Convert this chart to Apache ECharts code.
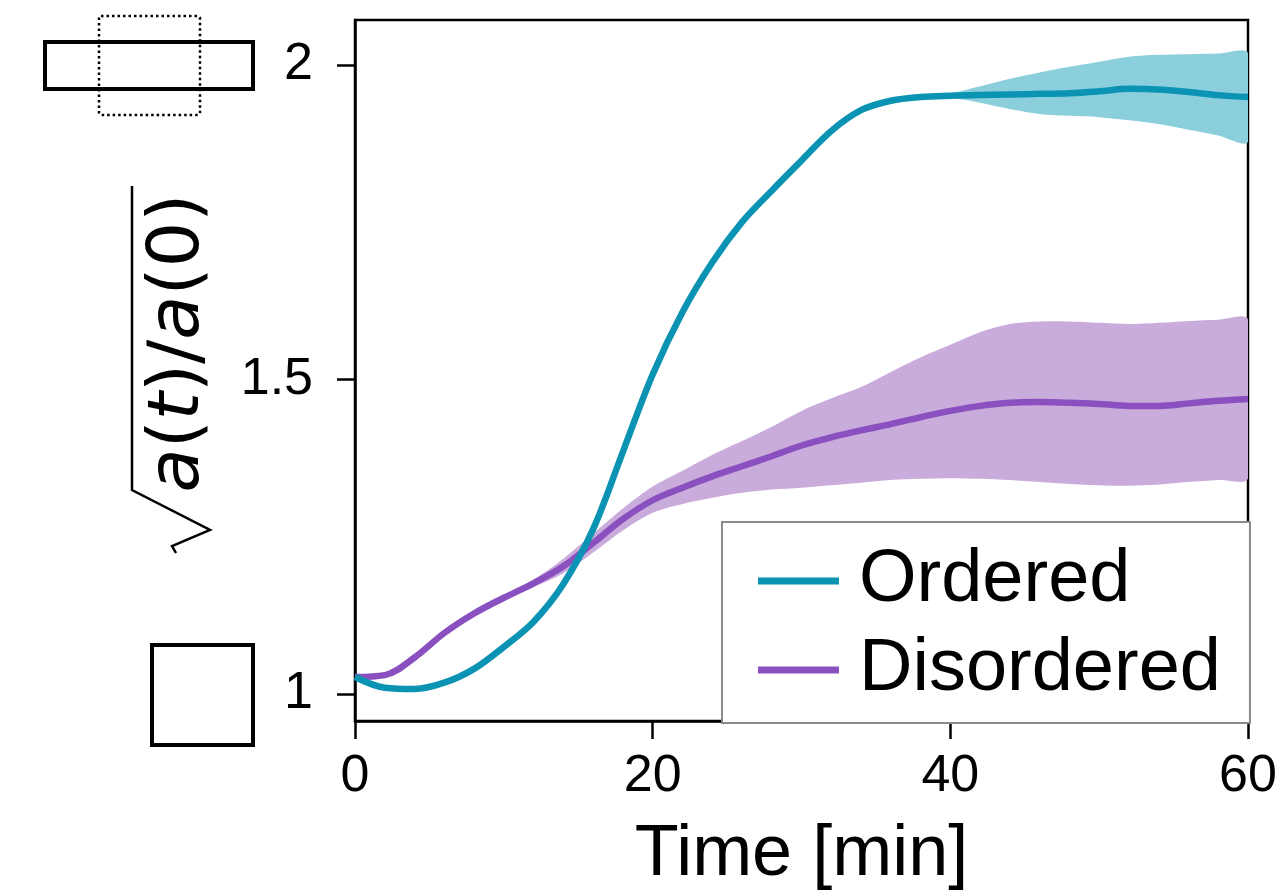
<!DOCTYPE html>
<html>
<head>
<meta charset="utf-8">
<script src="https://cdn.jsdelivr.net/npm/echarts@6/dist/echarts.min.js"></script>
<style>
html,body{margin:0;padding:0;background:#fff;}
#chart{width:1286px;height:896px;}
</style>
</head>
<body>
<div id="chart"></div>
<script>
// ---- data ----
var times = [0,2,4,6,8,10,12,14,16,18,20,22,24,26,28,30,32,34,36,38,40,42,44,46,48,50,52,54,56,58,60];

var orderedMean  = [1.027,1.010,1.008,1.018,1.040,1.075,1.115,1.175,1.262,1.385,1.508,1.607,1.686,1.750,1.800,1.848,1.895,1.928,1.943,1.949,1.951,1.952,1.953,1.954,1.955,1.958,1.962,1.961,1.957,1.952,1.949];
var orderedUpper = [1.029,1.012,1.010,1.020,1.042,1.077,1.117,1.177,1.264,1.387,1.510,1.609,1.688,1.752,1.802,1.850,1.897,1.930,1.945,1.951,1.955,1.966,1.978,1.988,1.997,2.005,2.013,2.016,2.017,2.018,2.019];
var orderedLower = [1.025,1.008,1.006,1.016,1.038,1.073,1.113,1.173,1.260,1.383,1.506,1.605,1.684,1.748,1.798,1.846,1.893,1.926,1.941,1.947,1.948,1.940,1.930,1.922,1.919,1.917,1.912,1.906,1.897,1.888,1.878];

var disorderedMean  = [1.027,1.030,1.058,1.097,1.128,1.153,1.176,1.203,1.240,1.278,1.308,1.328,1.346,1.362,1.378,1.395,1.408,1.419,1.429,1.440,1.450,1.458,1.463,1.464,1.463,1.461,1.458,1.458,1.462,1.466,1.469];
var disorderedUpper = [1.029,1.032,1.060,1.099,1.131,1.157,1.182,1.215,1.255,1.295,1.330,1.355,1.380,1.402,1.425,1.450,1.470,1.488,1.512,1.535,1.555,1.575,1.588,1.592,1.592,1.590,1.588,1.590,1.593,1.595,1.595];
var disorderedLower = [1.025,1.028,1.056,1.095,1.125,1.149,1.170,1.192,1.225,1.260,1.288,1.302,1.312,1.320,1.325,1.328,1.332,1.336,1.340,1.342,1.343,1.342,1.340,1.337,1.334,1.332,1.331,1.333,1.337,1.340,1.343];

var seriesNames = ['Ordered','Disordered'];
var xTicks = [0,20,40,60];
var yTicks = [1,1.5,2];

// ---- styles ----
var tealLine = '#0b93b3';
var tealBand = '#8bcfdd';
var purpleLine = '#8b50bf';
var purpleBand = '#c9acdb';
var FONT = 'Liberation Sans';

function pairs(xs, ys){ return xs.map(function(x,i){ return [x, ys[i]]; }); }

function bandSeries(name, upper, lower, color){
  return {
    name:name, type:'custom', silent:true, clip:true,
    data:[[times[0], upper[0]]],
    renderItem:function(params, api){
      var pts = [];
      for (var i=0;i<times.length;i++) pts.push(api.coord([times[i], upper[i]]));
      for (var j=times.length-1;j>=0;j--) pts.push(api.coord([times[j], lower[j]]));
      var cs = params.coordSys;
      return {type:'polygon',
        shape:{points:pts, smooth:0.3, smoothConstraint:[[cs.x, cs.y],[cs.x+cs.width, cs.y+cs.height]]},
        style:{fill:color, stroke:null}};
    }
  };
}

var chart = echarts.init(document.getElementById('chart'), null, {renderer:'canvas'});

var option = {
  animation:false,
  backgroundColor:'#fff',
  grid:{left:355, right:38, top:20, bottom:174, show:true, borderColor:'#000', borderWidth:2.5, backgroundColor:'transparent'},
  xAxis:{
    type:'value', min:0, max:60, interval:20,
    name:'Time [min]', nameLocation:'middle', nameGap:98,
    nameTextStyle:{fontFamily:FONT, fontSize:72, color:'#000'},
    axisLine:{show:true, onZero:false, lineStyle:{color:'#000', width:2.5}},
    axisTick:{show:true, length:18, lineStyle:{color:'#000', width:2.5}, customValues:xTicks},
    axisLabel:{fontFamily:FONT, fontSize:52, color:'#000', margin:30, customValues:xTicks},
    splitLine:{show:false}
  },
  yAxis:{
    type:'value', min:0.9571, max:2.0714,
    axisLine:{show:true, onZero:false, lineStyle:{color:'#000', width:2.5}},
    axisTick:{show:true, length:18, lineStyle:{color:'#000', width:2.5}, customValues:yTicks},
    axisLabel:{fontFamily:FONT, fontSize:52, color:'#000', margin:42, customValues:yTicks,
      formatter:function(v){ return String(v); }},
    splitLine:{show:false}
  },
  legend:{
    data:seriesNames,
    orient:'vertical',
    left:722, top:522,
    padding:[22,29,16,36],
    itemWidth:81, itemHeight:7, itemGap:15,
    icon:'rect',
    backgroundColor:'#fff',
    borderColor:'#8a8a8a', borderWidth:2, borderRadius:0,
    textStyle:{fontFamily:FONT, fontSize:74, color:'#000', lineHeight:72, padding:[0,0,0,15]},
    selectedMode:false
  },
  series:[
    bandSeries('ordBand', orderedUpper, orderedLower, tealBand),
    bandSeries('disBand', disorderedUpper, disorderedLower, purpleBand),
    {name:seriesNames[1], type:'line', smooth:0.35, symbol:'none', data:pairs(times, disorderedMean),
      lineStyle:{color:purpleLine, width:6.5}, itemStyle:{color:purpleLine}},
    {name:seriesNames[0], type:'line', smooth:0.35, symbol:'none', data:pairs(times, orderedMean),
      lineStyle:{color:tealLine, width:6.5}, itemStyle:{color:tealLine}}
  ],
  graphic:[
    // y axis title: sqrt(a(t)/a(0)), rotated
    {type:'text', x:179, y:343, rotation:Math.PI/2,
      style:{
        text:'{i|a}{n|(}{i|t}{n|)/}{i|a}{n|(0)}',
        align:'center', verticalAlign:'middle',
        rich:{
          n:{fontFamily:'DejaVu Sans', fontSize:72, fill:'#000'},
          i:{fontFamily:'DejaVu Sans', fontSize:72, fontStyle:'italic', fill:'#000'}
        }
      }
    },
    {type:'polyline', shape:{points:[[132,186],[132,490],[210,530],[172,546],[176,553]]},
      style:{stroke:'#000', lineWidth:2.5, fill:null, lineJoin:'miter'}},
    // schematic boxes on the left
    {type:'rect', shape:{x:45, y:42, width:208, height:47}, style:{stroke:'#000', lineWidth:4, fill:null}},
    {type:'rect', shape:{x:99, y:16, width:101, height:99, r:2}, style:{stroke:'#000', lineWidth:2.5, fill:null, lineDash:[2.5,3]}},
    {type:'rect', shape:{x:152, y:645, width:101, height:100}, style:{stroke:'#000', lineWidth:4, fill:null}}
  ]
};
chart.setOption(option);
</script>
</body>
</html>
